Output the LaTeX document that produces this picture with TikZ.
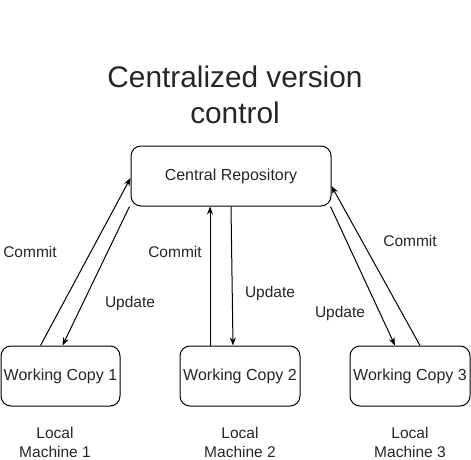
\documentclass[tikz,border=0pt]{standalone}
\usepackage{fontspec}
\setmainfont{Liberation Sans}
\usetikzlibrary{arrows.meta}

\begin{document}
\begin{tikzpicture}[x=1pt, y=-1pt,
    box/.style={draw, line width=1pt, rounded corners=10pt, minimum height=60pt,
      inner sep=0pt, font=\fontsize{16}{19}\selectfont, text=black!85},
    lbl/.style={anchor=base, inner sep=0pt,
      font=\fontsize{15.5}{19}\selectfont, text=black!85},
    conn/.style={-{Stealth[length=8pt,width=6pt]}, line width=1pt}]
      % Fix the page size
      \useasboundingbox (0,0) rectangle (471,460);

      % Draw the title
      \node[lbl, font=\fontsize{29.8}{36}\selectfont] (title1) at (235,87) {Centralized version};
      \node[lbl, font=\fontsize{29.8}{36}\selectfont] (title2) at (235,123) {control};

      % Draw the repository and the working copies
      \node[box, minimum width=200pt] (repo) at (231,176) {Central Repository};
      \node[box, minimum width=119pt] (wc1) at (60.5,376) {Working Copy 1};
      \node[box, minimum width=120pt] (wc2) at (240,376) {Working Copy 2};
      \node[box, minimum width=120pt] (wc3) at (410,376) {Working Copy 3};

      % Add the machine labels
      \node[lbl, align=center] (m1) at (55,457) {Local\\Machine 1};
      \node[lbl, align=center] (m2) at (240,457) {Local\\Machine 2};
      \node[lbl, align=center] (m3) at (410,457) {Local\\Machine 3};

      % Commit and update arrows for the first machine
      \draw[conn] ([xshift=-20pt]wc1.north) -- ([yshift=-2pt]repo.west);
      \draw[conn] ([xshift=-1pt]repo.south west) -- ([xshift=2pt]wc1.north);

      % Commit and update arrows for the second machine
      \draw[conn] ([xshift=-30pt]wc2.north) -- ([xshift=-21pt]repo.south);
      \draw[conn] (repo.south) -- ([xshift=-7pt]wc2.north);

      % Commit and update arrows for the third machine
      \draw[conn] ([xshift=10pt]wc3.north) -- ([yshift=-10pt]repo.east);
      \draw[conn] ([xshift=-1pt]repo.south east) -- ([xshift=-15pt]wc3.north);

      % Add the arrow labels
      \node[lbl] (c1) at (30,257) {Commit};
      \node[lbl] (u1) at (130,307) {Update};
      \node[lbl] (c2) at (175,257) {Commit};
      \node[lbl] (u2) at (270,297) {Update};
      \node[lbl] (u3) at (340,317) {Update};
      \node[lbl] (c3) at (410,246) {Commit};
    \end{tikzpicture}
\end{document}
